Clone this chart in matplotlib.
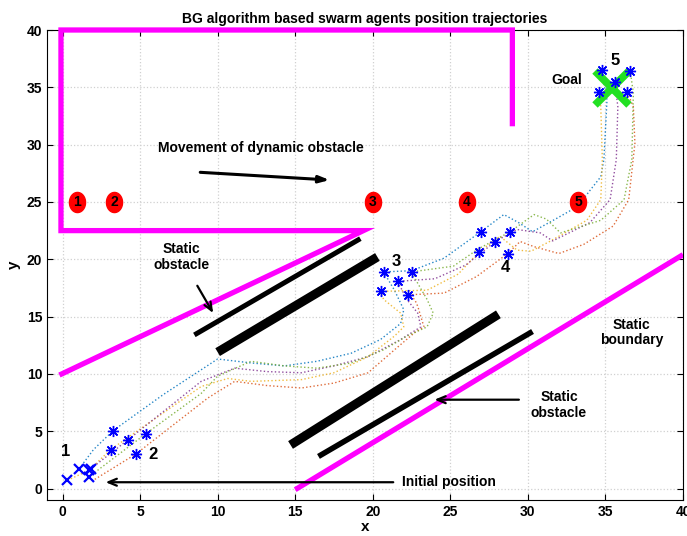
import matplotlib
matplotlib.use("Agg")
import matplotlib.pyplot as plt
from matplotlib.path import Path
import numpy as np

plt.rcParams['font.family'] = ['Liberation Sans Narrow', 'Liberation Sans', 'DejaVu Sans']
plt.rcParams['font.weight'] = 'bold'

# ---------------- data ----------------
title = "BG algorithm based swarm agents position trajectories"
xticks = [0, 5, 10, 15, 20, 25, 30, 35, 40]
yticks = [0, 5, 10, 15, 20, 25, 30, 35, 40]

# static/dynamic boundary (magenta)
upper_boundary_x = [29.0, 29.0, -0.1, -0.1, 19.4, -0.2]
upper_boundary_y = [31.6, 40.0, 40.0, 22.5, 22.5, 9.9]
lower_boundary_x = [15.0, 40.0]
lower_boundary_y = [-0.1, 20.4]

# static obstacles (black bars): x0, y0, x1, y1, width
obs_x0 = [8.5, 10.0, 14.7, 16.5]
obs_y0 = [13.4, 11.9, 3.8, 2.8]
obs_x1 = [19.2, 20.3, 28.1, 30.3]
obs_y1 = [21.8, 20.2, 15.2, 13.7]
obs_lw = [3.6, 6.5, 6.5, 4.0]

# dynamic obstacle positions (red)
dyn_x = [0.96, 3.34, 20.0, 26.05, 33.25]
dyn_y = [25.0, 25.0, 25.0, 25.0, 25.0]
dyn_lbl = ["1", "2", "3", "4", "5"]

# agent trajectories
traj_blue_x = [1.07, 2.0, 3.26, 6.5, 10.0, 12.2, 14.3, 16.4, 18.6, 20.5, 21.8, 22.0, 21.4, 20.7,
               22.5, 24.6, 26.96, 28.45, 29.4, 30.3, 31.9, 33.2, 34.0, 34.7, 34.9, 35.1, 34.75]
traj_blue_y = [1.72, 3.4, 5.05, 8.2, 11.3, 10.95, 10.7, 11.1, 11.8, 13.0, 14.4, 15.6, 17.3, 18.9,
               19.0, 20.1, 22.4, 23.9, 23.2, 22.4, 23.6, 24.6, 26.0, 27.2, 28.7, 33.9, 36.5]
traj_purple_x = [1.82, 4.24, 8.94, 11.1, 13.2, 15.4, 17.5, 19.7, 21.8, 23.1, 22.9, 22.2, 21.6,
                 24.0, 26.0, 27.9, 29.3, 30.8, 31.6, 34.0, 35.3, 35.7, 35.8, 35.6]
traj_purple_y = [1.72, 4.27, 9.35, 10.5, 10.2, 10.1, 10.7, 11.5, 13.0, 14.1, 15.3, 16.5, 18.07,
                 18.3, 19.5, 21.55, 22.6, 22.3, 21.6, 23.2, 25.2, 28.7, 33.3, 35.5]
traj_yellow_x = [0.32, 1.72, 3.1, 8.94, 10.65, 12.15, 15.4, 17.5, 19.7, 21.4, 22.0, 21.8, 20.7, 20.5,
                 23.5, 25.5, 26.86, 28.2, 29.3, 30.2, 31.4, 33.8, 34.7, 34.8, 34.7, 34.6]
traj_yellow_y = [0.72, 1.6, 3.4, 8.9, 9.6, 9.35, 9.5, 10.1, 11.5, 13.3, 14.1, 15.3, 16.5, 17.2,
                 17.3, 18.7, 20.65, 22.0, 20.8, 20.7, 21.55, 23.4, 25.2, 28.7, 33.3, 34.6]
traj_green_x = [1.69, 5.36, 8.94, 10.0, 12.15, 14.3, 16.4, 18.6, 20.7, 22.2, 23.5, 23.9, 23.5, 22.9, 22.5,
                25.2, 26.8, 28.85, 30.4, 31.2, 32.1, 34.7, 36.2, 36.7, 36.8, 36.6]
traj_green_y = [1.0, 4.77, 8.3, 9.8, 11.1, 10.7, 10.5, 10.95, 12.1, 13.3, 14.1, 15.3, 16.5, 17.9, 18.9,
                19.4, 20.9, 22.4, 23.9, 23.5, 22.3, 23.4, 25.2, 28.7, 34.5, 36.4]
traj_orange_x = [2.08, 4.74, 9.37, 11.1, 13.2, 15.4, 17.5, 19.7, 21.4, 22.7, 23.3, 22.9, 22.7, 22.3,
                 24.6, 26.7, 28.7, 29.5, 30.4, 32.0, 33.6, 35.5, 36.5, 36.9, 36.8, 36.4]
traj_orange_y = [0.8, 3.02, 7.9, 9.35, 8.98, 8.77, 9.2, 10.1, 12.1, 13.6, 14.1, 15.9, 16.5, 16.9,
                 17.05, 18.5, 20.5, 21.55, 21.1, 20.5, 21.3, 22.9, 25.2, 30.1, 33.3, 34.6]

# agent positions at each stage
init_x = [0.32, 1.07, 1.72, 1.82, 1.69]
init_y = [0.72, 1.72, 1.6, 1.72, 1.0]
stage2_x = [3.26, 3.1, 4.24, 5.36, 4.74]
stage2_y = [5.05, 3.4, 4.27, 4.77, 3.02]
stage3_x = [20.7, 22.5, 21.6, 20.5, 22.3]
stage3_y = [18.9, 18.9, 18.07, 17.2, 16.9]
stage4_x = [26.96, 28.85, 27.9, 26.86, 28.7]
stage4_y = [22.4, 22.4, 21.5, 20.65, 20.5]
stage5_x = [34.75, 36.6, 35.6, 34.6, 36.4]
stage5_y = [36.5, 36.4, 35.5, 34.6, 34.6]

goal_x, goal_y = 35.4, 34.9

stage_lbl = ["1", "2", "3", "4", "5"]
stage_lbl_x = [0.2, 5.85, 21.5, 28.55, 35.6]
stage_lbl_y = [3.2, 3.0, 19.8, 19.3, 37.3]

# ---------------- drawing ----------------
fig = plt.figure(figsize=(6.87, 5.36), dpi=100)
ax = fig.add_axes([47/687, 36/536, 636/687, 470/536])
ax.set_xlim(-1, 40)
ax.set_ylim(-1, 40)
ax.set_xticks(xticks)
ax.set_yticks(yticks)
ax.tick_params(direction='in', top=True, right=True, labelsize=10, length=4, width=0.8)
for lab in ax.get_xticklabels() + ax.get_yticklabels():
    lab.set_fontweight('bold')
ax.grid(True, linestyle=':', color='#d0d0d0', linewidth=0.9)
ax.set_axisbelow(True)
for s in ax.spines.values():
    s.set_linewidth(0.8)

ax.set_title(title, fontsize=10, fontweight='bold', pad=5)
ax.set_xlabel("x", fontsize=11, fontweight='bold', labelpad=1)
ax.set_ylabel("y", fontsize=11, fontweight='bold', labelpad=4)

# boundaries
ax.plot(upper_boundary_x, upper_boundary_y, color=(1, 0, 1), lw=3.8, clip_on=False,
        solid_joinstyle='miter', solid_capstyle='butt', zorder=3)
ax.plot(lower_boundary_x, lower_boundary_y, color=(1, 0, 1), lw=3.8, solid_capstyle='butt', zorder=3)

# obstacles
for x0, y0, x1, y1, w in zip(obs_x0, obs_y0, obs_x1, obs_y1, obs_lw):
    ax.plot([x0, x1], [y0, y1], color='black', lw=w, solid_capstyle='butt', zorder=3)

# trajectories
mcol = {
    'blue': (0, 0.447, 0.741),
    'orange': (0.85, 0.325, 0.098),
    'yellow': (0.929, 0.694, 0.125),
    'purple': (0.494, 0.184, 0.556),
    'green': (0.466, 0.674, 0.188),
}
trajs = [
    (traj_blue_x, traj_blue_y, 'blue'),
    (traj_orange_x, traj_orange_y, 'orange'),
    (traj_yellow_x, traj_yellow_y, 'yellow'),
    (traj_purple_x, traj_purple_y, 'purple'),
    (traj_green_x, traj_green_y, 'green'),
]
for tx, ty, c in trajs:
    ax.plot(tx, ty, linestyle=':', color=mcol[c], lw=1.0, alpha=0.85, zorder=2)

# dynamic obstacle markers
t = np.linspace(0, 2 * np.pi, 40)
ell = Path(np.column_stack([0.8 * np.cos(t), np.sin(t)]))
ax.plot(dyn_x, dyn_y, linestyle='none', marker=ell, markersize=14.5,
        color='red', markeredgecolor='red', zorder=4)
for x, y, s in zip(dyn_x, dyn_y, dyn_lbl):
    ax.text(x, y, s, ha='center', va='center', fontsize=10, fontweight='bold', zorder=5)

# agent markers
ax.plot(init_x, init_y, linestyle='none', marker='x', color='blue', markersize=7, mew=1.6, zorder=6)
for sx, sy in [(stage2_x, stage2_y), (stage3_x, stage3_y), (stage4_x, stage4_y), (stage5_x, stage5_y)]:
    ax.plot(sx, sy, linestyle='none', marker=(8, 2, 0), color='blue', markersize=8, mew=1.0, zorder=6)

# goal
ax.plot([goal_x], [goal_y], linestyle='none', marker='x', color='#22e022', markersize=24, mew=5.5, zorder=5)

# stage labels
for x, y, s in zip(stage_lbl_x, stage_lbl_y, stage_lbl):
    ax.text(x, y, s, ha='center', va='center', fontsize=12, fontweight='bold', zorder=7)

# annotations
fs = 10
ax.text(12.8, 29.7, "Movement of dynamic obstacle", ha='center', va='center', fontsize=fs, fontweight='bold')
ax.annotate("", xy=(17.4, 26.9), xytext=(8.7, 27.6),
            arrowprops=dict(arrowstyle='-|>,head_length=0.6,head_width=0.2', color='black', lw=2.2))
ax.text(21.9, 0.6, "Initial position", ha='left', va='center', fontsize=fs, fontweight='bold')
ax.annotate("", xy=(2.6, 0.55), xytext=(21.5, 0.55),
            arrowprops=dict(arrowstyle='->,head_length=0.6,head_width=0.25', color='black', lw=1.6))
ax.text(32.0, 7.3, "Static\nobstacle", ha='center', va='center', fontsize=fs, fontweight='bold',
        linespacing=1.15)
ax.annotate("", xy=(23.8, 7.75), xytext=(29.6, 7.75),
            arrowprops=dict(arrowstyle='->,head_length=0.6,head_width=0.25', color='black', lw=1.6))
ax.text(7.65, 20.2, "Static\nobstacle", ha='center', va='center', fontsize=fs, fontweight='bold',
        linespacing=1.15)
ax.annotate("", xy=(9.8, 15.1), xytext=(8.6, 17.9),
            arrowprops=dict(arrowstyle='->,head_length=0.6,head_width=0.25', color='black', lw=1.6))
ax.text(36.7, 13.6, "Static\nboundary", ha='center', va='center', fontsize=fs, fontweight='bold',
        linespacing=1.15)
ax.text(32.5, 35.6, "Goal", ha='center', va='center', fontsize=fs, fontweight='bold')

fig.savefig("out.png", dpi=100)
